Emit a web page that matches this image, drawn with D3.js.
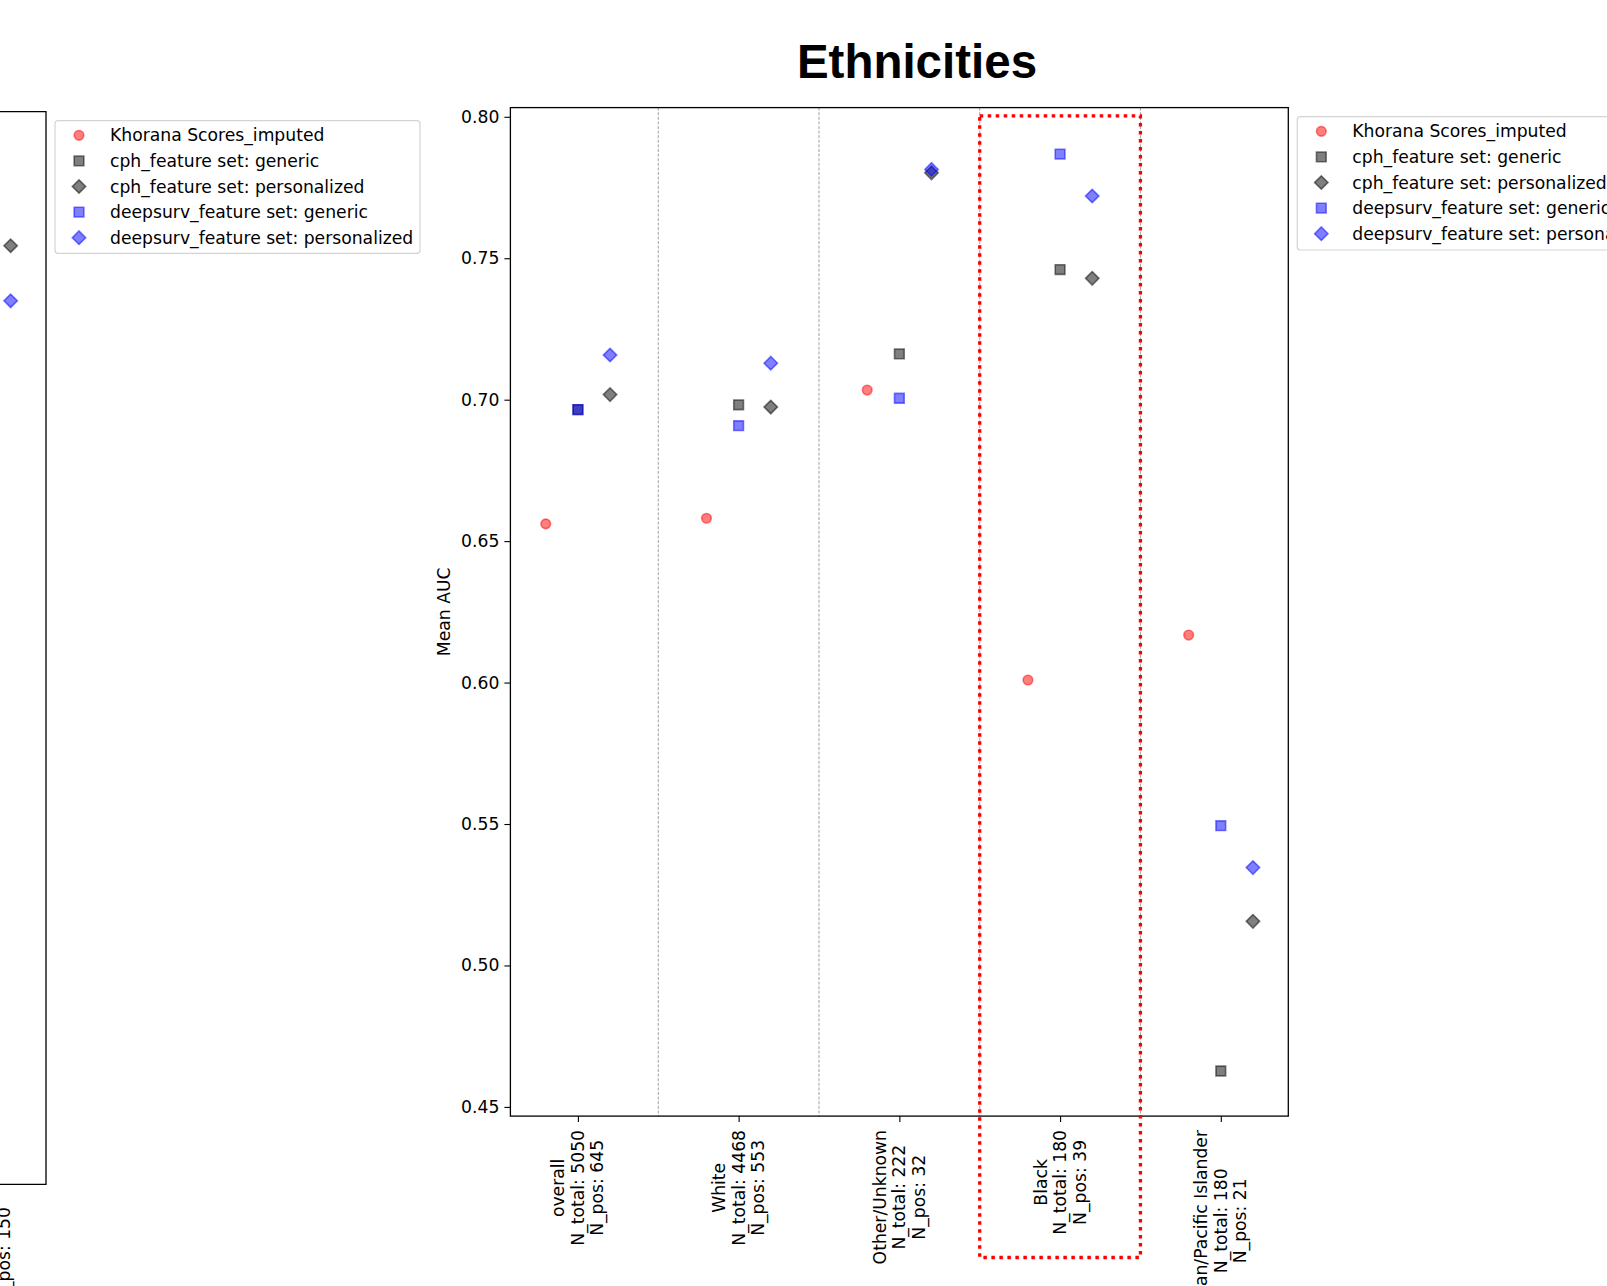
<!DOCTYPE html>
<html>
<head>
<meta charset="utf-8">
<script src="https://cdn.jsdelivr.net/npm/d3@7"></script>
<style>
  body { margin: 0; background: #fff; }
  text { font-family: "DejaVu Sans", sans-serif; font-size: 17.2px; fill: #000; }
</style>
</head>
<body>
<div id="chart"></div>
<script>
// data
const groups = ["overall", "White", "Other/Unknown", "Black", "Asian/Pacific Islander"];
const nTotal = [5050, 4468, 222, 180, 180];
const nPos = [645, 553, 32, 39, 21];

const seriesNames = ["Khorana Scores_imputed", "cph_feature set: generic", "cph_feature set: personalized",
  "deepsurv_feature set: generic", "deepsurv_feature set: personalized"];
const khorana = [0.6561, 0.6581, 0.7034, 0.6009, 0.6168];
const cphGeneric = [0.6965, 0.6982, 0.7162, 0.7460, 0.4627];
const cphPersonalized = [0.7018, 0.6974, 0.7802, 0.7429, 0.5156];
const deepsurvGeneric = [0.6965, 0.6908, 0.7005, 0.7868, 0.5494];
const deepsurvPersonalized = [0.7158, 0.7129, 0.7814, 0.7720, 0.5346];
const yTicks = [0.45, 0.50, 0.55, 0.60, 0.65, 0.70, 0.75, 0.80];

// the panel cut off on the left (only its last group shows)
const leftCphPersonalized = 0.7587;
const leftDeepsurvPersonalized = 0.7404;
const leftLastLabel = "N_pos: 150";

const highlighted = 3; // "Black" gets the red box

let w = 1607, h = 1286;
let svg = d3.select("#chart").append("svg")
  .attr("width", w).attr("height", h);

const colors = ["#ff0000", "#000000", "#000000", "#0000ff", "#0000ff"];
const shapes = ["circle", "square", "diamond", "square", "diamond"];
const offsets = [-0.2, 0, 0.2, 0, 0.2];
const allSeries = [khorana, cphGeneric, cphPersonalized, deepsurvGeneric, deepsurvPersonalized];

const symbolPath = {
  circle: d3.symbol().type(d3.symbolCircle).size(72)(),
  square: d3.symbol().type(d3.symbolSquare).size(94)(),
  diamond: d3.symbol().type(d3.symbolSquare).size(90)()
};
const marker = (sel, shape, color) => sel
  .attr("d", symbolPath[shape])
  .attr("fill", color).attr("fill-opacity", 0.5)
  .attr("stroke", color).attr("stroke-opacity", 0.5).attr("stroke-width", 1.6);
const rot = s => s === "diamond" ? " rotate(45)" : "";

// main axes
const pLeft = 510.4, pRight = 1288.3, pTop = 107.6, pBottom = 1116.1;
const x = d3.scaleLinear().domain([-0.42, 4.42]).range([pLeft, pRight]);
const y = d3.scaleLinear().domain([0.44675, 0.80325]).range([pBottom, pTop]);

// group separators
svg.append("g").selectAll("line").data(d3.range(groups.length - 1))
  .enter().append("line")
  .attr("x1", d => x(d + 0.5)).attr("x2", d => x(d + 0.5))
  .attr("y1", pTop).attr("y2", pBottom)
  .attr("stroke", "#8a8a8a").attr("stroke-width", 0.8).attr("stroke-dasharray", "3,1.6");

// points
allSeries.forEach((vals, s) => {
  svg.append("g").selectAll("path").data(vals).enter().append("path")
    .call(marker, shapes[s], colors[s])
    .attr("transform", (d, i) => "translate(" + x(i + offsets[s]) + "," + y(d) + ")" + rot(shapes[s]));
});

// y axis
let yAxis = svg.append("g").attr("transform", "translate(" + pLeft + ",0)")
  .call(d3.axisLeft(y).tickValues(yTicks).tickFormat(d3.format(".2f")).tickSize(6).tickPadding(5));
yAxis.select(".domain").remove();
yAxis.selectAll("line").attr("stroke", "#000").attr("stroke-width", 1.1);
yAxis.selectAll("text").attr("font-size", 17.2).attr("font-family", "DejaVu Sans");

// x axis ticks
let xAxis = svg.append("g").attr("transform", "translate(0," + pBottom + ")")
  .call(d3.axisBottom(x).tickValues(d3.range(groups.length)).tickFormat("").tickSize(6));
xAxis.select(".domain").remove();
xAxis.selectAll("line").attr("stroke", "#000").attr("stroke-width", 1.1);

// rotated multi-line tick labels
const lineGap = 19.5, labelTop = 1130;
groups.forEach((g, i) => {
  const lines = [g, "N_total: " + nTotal[i], "N_pos: " + nPos[i]];
  const tg = svg.append("g");
  const texts = lines.map((t, k) => tg.append("text").text(t).attr("text-anchor", "middle")
    .attr("dominant-baseline", "central"));
  const maxW = d3.max(texts, t => t.node().getComputedTextLength());
  texts.forEach((t, k) => t.attr("transform",
    "translate(" + (x(i) + (k - 1) * lineGap) + "," + (labelTop + maxW / 2) + ") rotate(-90)"));
});

// frame
svg.append("rect").attr("x", pLeft).attr("y", pTop)
  .attr("width", pRight - pLeft).attr("height", pBottom - pTop)
  .attr("fill", "none").attr("stroke", "#000").attr("stroke-width", 1.3);

// y label
svg.append("text").text("Mean AUC")
  .attr("text-anchor", "middle").attr("dominant-baseline", "central")
  .attr("transform", "translate(444," + ((pTop + pBottom) / 2) + ") rotate(-90)");

// title
svg.append("text").text("Ethnicities")
  .attr("x", 917).attr("y", 78).attr("text-anchor", "middle")
  .style("font-family", "'Liberation Sans', Arial, sans-serif")
  .style("font-weight", "bold").style("font-size", "47.5px");

// red dotted box around the highlighted group
svg.append("rect")
  .attr("x", x(highlighted - 0.5)).attr("y", y(0.8) - 1)
  .attr("width", x(highlighted + 0.5) - x(highlighted - 0.5))
  .attr("height", 1257.5 - (y(0.8) - 1))
  .attr("fill", "none").attr("stroke", "#ff0000").attr("stroke-width", 3.3)
  .attr("stroke-dasharray", "3.5,4.5");

// legends
const drawLegend = (x0, y0, bw, bh) => {
  const lg = svg.append("g");
  lg.append("rect").attr("x", x0).attr("y", y0).attr("width", bw).attr("height", bh)
    .attr("rx", 3).attr("fill", "#fff").attr("fill-opacity", 0.8)
    .attr("stroke", "#d4d4d4").attr("stroke-width", 1.2);
  seriesNames.forEach((name, s) => {
    const ry = y0 + 14.6 + s * 25.6;
    lg.append("path").call(marker, shapes[s], colors[s])
      .attr("transform", "translate(" + (x0 + 24) + "," + ry + ")" + rot(shapes[s]));
    lg.append("text").text(name).attr("x", x0 + 55).attr("y", ry)
      .attr("dominant-baseline", "central");
  });
};
drawLegend(1297.3, 116.7, 360, 133.3);

// left partial panel
const lRight = 46, lTop = 111.7, lBottom = 1184.3;
const xl = d3.scaleLinear().domain([-0.42, 4.42]).range([lRight - (pRight - pLeft), lRight]);
const yl = d3.scaleLinear().domain([0.44675, 0.80325]).range([lBottom, lTop]);
svg.append("path").attr("d", "M-5," + lTop + "H" + lRight + "V" + lBottom + "H-5")
  .attr("fill", "none").attr("stroke", "#000").attr("stroke-width", 1.3);
[[leftCphPersonalized, 2], [leftDeepsurvPersonalized, 4]].forEach(([v, s]) => {
  svg.append("path").call(marker, shapes[s], colors[s])
    .attr("transform", "translate(" + xl(4 + offsets[s]) + "," + yl(v) + ")" + rot(shapes[s]));
});
svg.append("text").text(leftLastLabel)
  .attr("text-anchor", "end").attr("dominant-baseline", "central")
  .attr("transform", "translate(4,1207) rotate(-90)");
drawLegend(55, 120.7, 365, 132.6);
</script>
</body>
</html>
